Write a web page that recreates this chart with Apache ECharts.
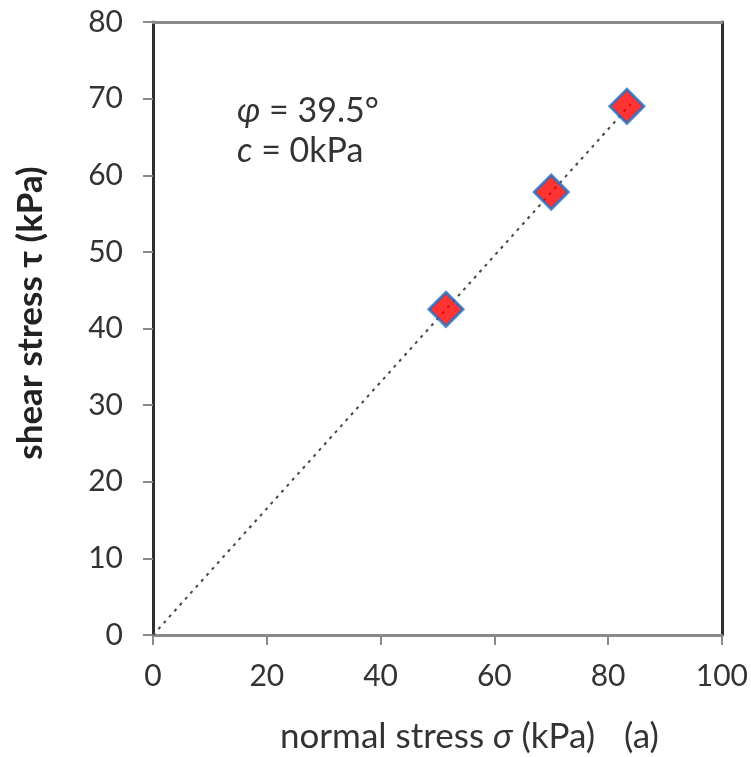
<!DOCTYPE html>
<html><head><meta charset="utf-8">
<script src="https://cdn.jsdelivr.net/npm/echarts@6/dist/echarts.min.js"></script>
<style>html,body{margin:0;padding:0;background:#fff}#c{width:751px;height:757px}</style>
</head><body><div id="c"></div>
<script>
const sigma = [51.5, 70.0, 83.3];
const tau = [42.5, 57.8, 69.0];
const fitLine = [[0, 0], [84, 69.3]];
const FONT = 'Lato, "Open Sans", sans-serif';

const chart = echarts.init(document.getElementById('c'), null, {renderer: 'canvas'});
const axisLabelStyle = {color: '#333', fontSize: 30, fontFamily: FONT};
const rich = {i: {fontStyle: 'italic', fontSize: 34, fontFamily: FONT, fill: '#333'}};
const rich2 = {i: {fontStyle: 'italic', fontSize: 35, fontFamily: FONT, fill: '#333'}};
chart.setOption({
  animation: false,
  grid: {left: 153, right: 28, top: 22, bottom: 122},
  xAxis: [{
    type: 'value', min: 0, max: 100, interval: 20, position: 'bottom',
    axisLine: {show: true, onZero: false, lineStyle: {color: '#8a8a8a', width: 3}},
    axisTick: {show: true, inside: false, length: 10, lineStyle: {color: '#8a8a8a', width: 2}},
    axisLabel: Object.assign({margin: 26}, axisLabelStyle),
    splitLine: {show: false}
  }, {
    type: 'value', min: 0, max: 100, interval: 20, position: 'top',
    axisLine: {show: true, onZero: false, lineStyle: {color: '#8a8a8a', width: 3}},
    axisTick: {show: false}, axisLabel: {show: false}, splitLine: {show: false}
  }],
  yAxis: [{
    type: 'value', min: 0, max: 80, interval: 10, position: 'left',
    axisLine: {show: true, onZero: false, lineStyle: {color: '#2e2e2e', width: 3}},
    axisTick: {show: true, inside: false, length: 10, lineStyle: {color: '#8a8a8a', width: 2}},
    axisLabel: Object.assign({margin: 30}, axisLabelStyle),
    splitLine: {show: false}
  }, {
    type: 'value', min: 0, max: 80, interval: 10, position: 'right',
    axisLine: {show: true, onZero: false, lineStyle: {color: '#2e2e2e', width: 3}},
    axisTick: {show: false}, axisLabel: {show: false}, splitLine: {show: false}
  }],
  series: [{
    type: 'line', data: fitLine, showSymbol: false, symbol: 'none',
    lineStyle: {color: '#444', width: 2, type: [3, 5]}, z: 1
  }, {
    type: 'scatter', data: sigma.map((s, i) => [s, tau[i]]),
    symbol: 'diamond', symbolSize: 34,
    itemStyle: {color: '#ff0000', borderColor: '#1f6fc0', borderWidth: 3}, z: 3
  }],
  graphic: [
    {type: 'text', x: 237, y: 111, style: {text: '{i|φ} = 39.5°', rich: rich, fontSize: 34, fontFamily: FONT, fill: '#333', verticalAlign: 'middle'}},
    {type: 'text', x: 237, y: 151, style: {text: '{i|c} = 0kPa', rich: rich, fontSize: 34, fontFamily: FONT, fill: '#333', verticalAlign: 'middle'}},
    {type: 'text', x: 280, y: 737, style: {text: 'normal stress {i|σ} (kPa)', rich: rich2, fontSize: 35, fontFamily: FONT, fill: '#333', verticalAlign: 'middle'}},
    {type: 'text', x: 624, y: 737, style: {text: '(a)', fontSize: 35, fontFamily: FONT, fill: '#333', verticalAlign: 'middle'}},
    {type: 'text', x: 31, y: 313, rotation: Math.PI / 2, style: {text: 'shear stress τ (kPa)', fontSize: 35, fontFamily: FONT, fill: '#222', fontWeight: 'bold', align: 'center', verticalAlign: 'middle'}}
  ]
});
</script></body></html>
